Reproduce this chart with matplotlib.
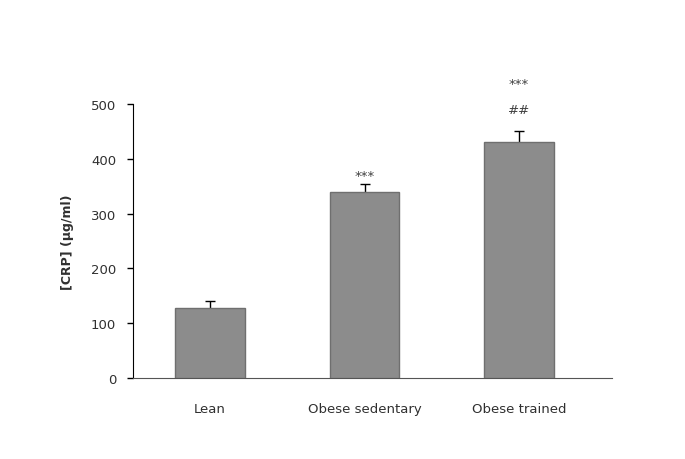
import matplotlib
matplotlib.use("Agg")
import matplotlib.pyplot as plt

categories = ["Lean", "Obese sedentary", "Obese trained"]
values = [128, 339, 431]
errors = [13, 15, 20]
annot_top = ["", "***", "***"]
annot_second = ["", "", "##"]
yticks = [0, 100, 200, 300, 400, 500]

fig = plt.figure(figsize=(6.85, 4.6), dpi=100)
ax = fig.add_axes([0.194, 0.176, 0.699, 0.596])

x = list(range(len(categories)))
ax.bar(x, values, width=0.45, color="#8c8c8c", edgecolor="#6f6f6f", linewidth=1.0, zorder=3)
ax.errorbar(x, values, yerr=errors, fmt="none", ecolor="black",
            elinewidth=1.0, capsize=3.5, capthick=1.0, zorder=2)

for xi, v, e, a1, a2 in zip(x, values, errors, annot_top, annot_second):
    if a2:
        ax.text(xi, v + e + 38, a2, ha="center", va="center", fontsize=9.5, color="#404040")
        ax.text(xi, v + e + 86, a1, ha="center", va="center", fontsize=9.5, color="#404040")
    elif a1:
        ax.text(xi, v + e + 16, a1, ha="center", va="center", fontsize=9.5, color="#404040")

ax.set_xlim(-0.5, 2.6)
ax.set_ylim(0, 500)
ax.set_yticks(yticks)
ax.set_xticks(x)
ax.set_xticklabels(categories, fontsize=9.5, color="#303030")
ax.tick_params(axis="y", labelsize=9.5, labelcolor="#303030", direction="out", length=4, width=1, pad=8)
ax.tick_params(axis="x", length=0, pad=17)
ax.spines["top"].set_visible(False)
ax.spines["right"].set_visible(False)
ax.spines["left"].set_color("black")
ax.spines["bottom"].set_color("#555555")
ax.set_ylabel("[CRP] (µg/ml)", fontsize=9, fontweight="bold", color="#303030", labelpad=12)

fig.savefig("out.png", dpi=100)
